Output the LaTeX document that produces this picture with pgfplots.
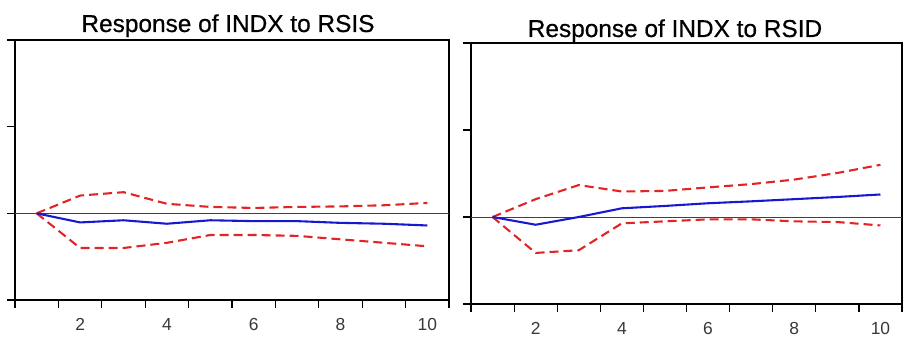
\documentclass[border=0pt]{standalone}
\usepackage{fontspec}
\setmainfont{Liberation Sans}
\newfontfamily\titlefont[FakeBold=0.6]{Liberation Sans}
\usepackage{pgfplots}
\pgfplotsset{compat=1.18}
\definecolor{irfred}{RGB}{226,36,36}
\definecolor{irfblue}{RGB}{24,24,210}
\begin{document}
\begin{tikzpicture}
\useasboundingbox (0bp,0bp) rectangle (919bp,343bp);
\pgfplotsset{irf/.style={
  scale only axis, xmin=0.5, xmax=10.5, ymin=-1, ymax=2,
  xtick={0.5,1.5,...,10.5}, xticklabels={},
  ytick={-1,0,1,2}, yticklabels={},
  tick align=outside, xtick pos=bottom, ytick pos=left,
  major tick length=8bp,
  axis line style={line width=1.4pt},
  every tick/.style={line width=1.2pt, black},
  extra x ticks={2,4,6,8,10},
  extra x tick labels={2,4,6,8,10},
  extra x tick style={major tick length=0pt,
    tick label style={font=\fontsize{17.5}{17.5}\selectfont, text=black!78, yshift=-15bp}},
  clip=false,
}}
\pgfplotsset{
  bnd/.style={irfred, line width=2.1pt, dash pattern=on 9bp off 5bp},
  mid/.style={irfblue, line width=2.1pt},
}
\begin{axis}[irf, at={(15bp,43bp)}, anchor=south west, width=434bp, height=260bp]
\addplot[black!75, line width=0.9pt] coordinates {(0.5,0) (10.5,0)};
\addplot[bnd] coordinates {(1,0) (2,0.205) (3,0.244) (4,0.11) (5,0.074) (6,0.062) (7,0.074) (8,0.08) (9,0.093) (10,0.12)};
\addplot[bnd] coordinates {(1,0) (2,-0.40) (3,-0.40) (4,-0.34) (5,-0.25) (6,-0.25) (7,-0.26) (8,-0.30) (9,-0.34) (10,-0.38)};
\addplot[mid] coordinates {(1,0) (2,-0.105) (3,-0.08) (4,-0.12) (5,-0.08) (6,-0.09) (7,-0.09) (8,-0.11) (9,-0.12) (10,-0.14)};
\end{axis}
\begin{axis}[irf, at={(471bp,39bp)}, anchor=south west, width=431bp, height=261bp]
\addplot[black!75, line width=0.9pt] coordinates {(0.5,0) (10.5,0)};
\addplot[bnd] coordinates {(1,0) (2,0.205) (3,0.367) (4,0.293) (5,0.30) (6,0.34) (7,0.378) (8,0.43) (9,0.506) (10,0.60)};
\addplot[bnd] coordinates {(1,0) (2,-0.413) (3,-0.382) (4,-0.073) (5,-0.05) (6,-0.027) (7,-0.027) (8,-0.05) (9,-0.058) (10,-0.097)};
\addplot[mid] coordinates {(1,0) (2,-0.089) (3,0.0) (4,0.10) (5,0.127) (6,0.158) (7,0.18) (8,0.205) (9,0.23) (10,0.259)};
\end{axis}
\node[anchor=base, font=\titlefont\fontsize{24.5}{24.5}\selectfont] at (228bp,311bp) {Response of INDX to RSIS};
\node[anchor=base, font=\titlefont\fontsize{24.5}{24.5}\selectfont] at (675bp,306bp) {Response of INDX to RSID};
\end{tikzpicture}
\end{document}
